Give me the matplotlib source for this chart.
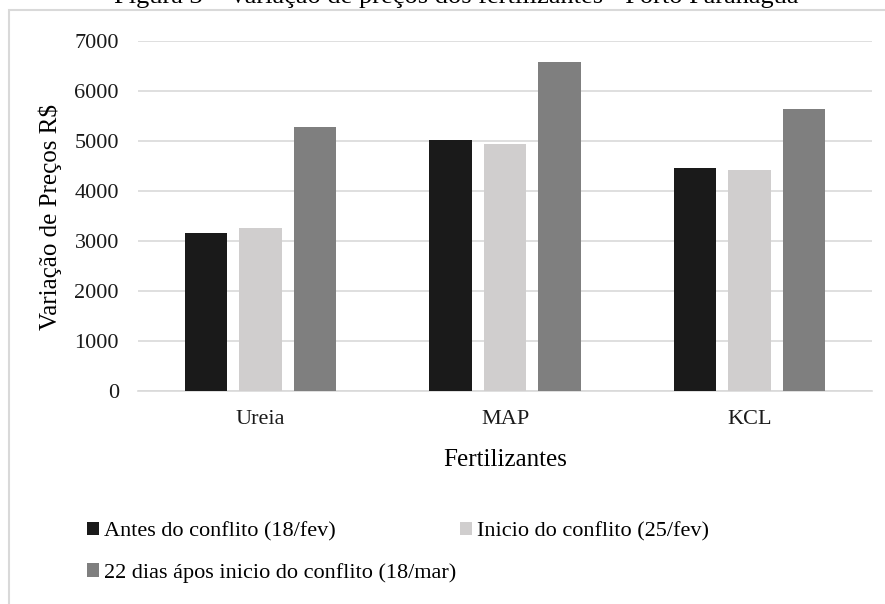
import numpy as np
import matplotlib
matplotlib.use('Agg')
from matplotlib import pyplot as plt
from matplotlib.patches import Rectangle, Patch

plt.rcParams['font.family'] = ['Liberation Serif', 'DejaVu Serif']

fertilizantes = ['Ureia', 'MAP', 'KCL']
antes = [3150, 5010, 4460]
inicio = [3250, 4930, 4410]
apos_22_dias = [5280, 6580, 5640]

series_names = ['Antes do conflito (18/fev)',
                'Inicio do conflito (25/fev)',
                '22 dias ápos inicio do conflito (18/mar)']
colors = ['#1a1a1a', '#d0cece', '#7f7f7f']
yticks = [0, 1000, 2000, 3000, 4000, 5000, 6000, 7000]

W, H = 885, 604
fig = plt.figure(figsize=(W / 100, H / 100), dpi=100)

# outer chart frame (only left and top edges fall inside the canvas)
fig.patches.append(Rectangle((9 / W, -0.2), 1.2, 1.2 - 10 / H,
                             transform=fig.transFigure, fill=False,
                             edgecolor='#d9d9d9', linewidth=1.5))

fig.text(456 / W, 1 - 2.5 / H,
         'Figura 3 – Variação de preços dos fertilizantes - Porto Paranaguá',
         ha='center', va='baseline', fontsize=19, color='black')

ax = fig.add_axes([138.3 / W, 1 - 391 / H, (871.7 - 138.3) / W, (391 - 40.7) / H])

x = np.arange(len(fertilizantes))
step = 0.2237
width = 0.174
handles = []
for i, (vals, c, name) in enumerate(zip([antes, inicio, apos_22_dias], colors, series_names)):
    ax.bar(x + (i - 1) * step, vals, width, color=c, zorder=3)
    handles.append(Patch(facecolor=c, edgecolor='none', label=name))

ax.set_xlim(-0.5, 2.5)
ax.set_ylim(0, 7000)
ax.set_yticks(yticks)
ax.set_xticks(x)
ax.set_xticklabels(fertilizantes)
ax.tick_params(axis='both', length=0, labelsize=16, colors='#1a1a1a')
ax.tick_params(axis='y', pad=14)
ax.tick_params(axis='x', pad=14)
ax.grid(axis='y', color='#d9d9d9', linewidth=1.2, zorder=0)
for side in ['top', 'right', 'left']:
    ax.spines[side].set_visible(False)
ax.spines['bottom'].set_color('#d9d9d9')
ax.spines['bottom'].set_linewidth(1.2)

fig.text(50 / W, 1 - 217 / H, 'Variação de Preços R$', rotation=90,
         ha='center', va='center', fontsize=18)
fig.text(505 / W, 1 - 460 / H, 'Fertilizantes', ha='center', va='center', fontsize=18)

# legend entries placed one by one (two on the first row, one below)
legend_pos = [(87, 531.7), (460, 531.7), (87, 573)]
for h, (lx, ly) in zip(handles, legend_pos):
    leg = fig.legend(handles=[h], loc='center left', bbox_to_anchor=(lx / W, 1 - ly / H),
                     frameon=False, fontsize=16, borderpad=0, borderaxespad=0,
                     handlelength=0.55, handleheight=0.55, handletextpad=0.2)

fig.savefig('out.png', dpi=100)
